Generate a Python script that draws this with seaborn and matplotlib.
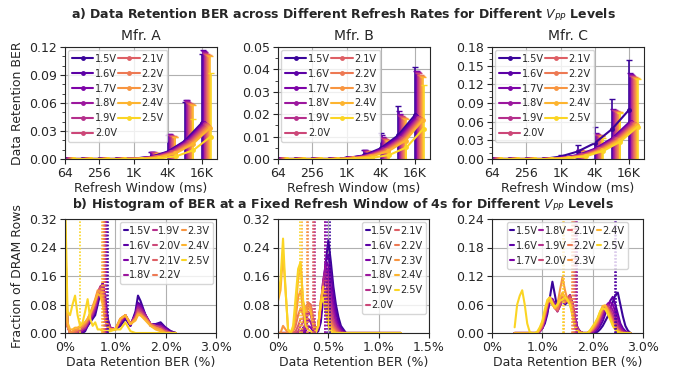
import numpy as np
import pandas as pd
import seaborn as sns
import matplotlib.pyplot as plt
from matplotlib.ticker import AutoMinorLocator, FuncFormatter, FormatStrFormatter

voltages = ['1.5V', '1.6V', '1.7V', '1.8V', '1.9V', '2.0V', '2.1V', '2.2V', '2.3V', '2.4V', '2.5V']
refresh_ms = [64, 128, 256, 512, 1024, 2048, 4096, 8192, 16384]
refresh_ticks = [64, 256, 1024, 4096, 16384]
refresh_labels = ['64', '256', '1K', '4K', '16K']

# top row: mean BER and spread per refresh window (rows = voltages)
mean_a = [
    [0, 0, 0, 0, .0005, .0022, .0080, .0195, .0390],
    [0, 0, 0, 0, .0005, .0021, .0078, .0192, .0385],
    [0, 0, 0, 0, .0005, .0021, .0077, .0190, .0382],
    [0, 0, 0, 0, .0004, .0020, .0075, .0187, .0378],
    [0, 0, 0, 0, .0004, .0020, .0073, .0183, .0372],
    [0, 0, 0, 0, .0004, .0019, .0071, .0179, .0366],
    [0, 0, 0, 0, .0004, .0018, .0069, .0175, .0360],
    [0, 0, 0, 0, .0004, .0017, .0066, .0170, .0352],
    [0, 0, 0, 0, .0003, .0016, .0063, .0165, .0343],
    [0, 0, 0, 0, .0003, .0015, .0059, .0158, .0330],
    [0, 0, 0, 0, .0001, .0006, .0030, .0095, .0240],
]
err_a = [
    [0, 0, 0, 0, .001, .005, .018, .0415, .074],
    [0, 0, 0, 0, .001, .005, .019, .0438, .0785],
    [0, 0, 0, 0, .001, .005, .019, .044, .0778],
    [0, 0, 0, 0, .001, .005, .0185, .0433, .0772],
    [0, 0, 0, 0, .001, .005, .0187, .0427, .0768],
    [0, 0, 0, 0, .001, .005, .018, .0421, .0754],
    [0, 0, 0, 0, .001, .005, .018, .0425, .076],
    [0, 0, 0, 0, .001, .0045, .0184, .042, .0758],
    [0, 0, 0, 0, .001, .0045, .0177, .0425, .0767],
    [0, 0, 0, 0, .001, .0045, .018, .0422, .077],
    [0, 0, 0, 0, .0005, .002, .009, .0335, .068],
]
mean_b = [
    [0, 0, 0, 0, .0004, .0016, .0048, .0105, .0197],
    [0, 0, 0, 0, .0004, .0015, .0046, .0100, .0190],
    [0, 0, 0, 0, .0004, .0015, .0045, .0098, .0188],
    [0, 0, 0, 0, .0003, .0014, .0043, .0095, .0185],
    [0, 0, 0, 0, .0003, .0014, .0042, .0093, .0183],
    [0, 0, 0, 0, .0003, .0013, .0041, .0091, .0181],
    [0, 0, 0, 0, .0003, .0013, .0040, .0089, .0179],
    [0, 0, 0, 0, .0003, .0012, .0038, .0087, .0177],
    [0, 0, 0, 0, .0003, .0012, .0037, .0085, .0176],
    [0, 0, 0, 0, .0002, .0011, .0035, .0082, .0174],
    [0, 0, 0, 0, .0001, .0005, .0018, .0052, .0136],
]
err_b = [
    [0, 0, 0, 0, .0006, .0025, .0068, .013, .0213],
    [0, 0, 0, 0, .0006, .0025, .006, .0115, .0205],
    [0, 0, 0, 0, .0006, .0024, .0052, .0103, .0205],
    [0, 0, 0, 0, .0005, .0023, .0051, .0100, .0203],
    [0, 0, 0, 0, .0005, .0023, .0050, .0099, .0202],
    [0, 0, 0, 0, .0005, .0022, .0049, .0099, .0202],
    [0, 0, 0, 0, .0005, .0022, .0048, .0098, .0198],
    [0, 0, 0, 0, .0005, .0021, .0047, .0098, .0196],
    [0, 0, 0, 0, .0005, .0021, .0046, .0097, .0194],
    [0, 0, 0, 0, .0004, .0020, .0045, .0096, .0193],
    [0, 0, 0, 0, .0002, .0010, .0030, .0075, .0195],
]
mean_c = [
    [0, 0, 0, 0, .0040, .0120, .0256, .0480, .0790],
    [0, 0, 0, 0, .0020, .0065, .0170, .0340, .0600],
    [0, 0, 0, 0, .0020, .0063, .0166, .0335, .0590],
    [0, 0, 0, 0, .0020, .0061, .0163, .0330, .0585],
    [0, 0, 0, 0, .0018, .0060, .0160, .0325, .0580],
    [0, 0, 0, 0, .0018, .0058, .0157, .0320, .0570],
    [0, 0, 0, 0, .0017, .0056, .0154, .0315, .0565],
    [0, 0, 0, 0, .0016, .0054, .0150, .0310, .0560],
    [0, 0, 0, 0, .0015, .0052, .0146, .0305, .0550],
    [0, 0, 0, 0, .0014, .0050, .0142, .0300, .0540],
    [0, 0, 0, 0, .0012, .0045, .0130, .0280, .0520],
]
err_c = [
    [0, 0, 0, 0, .002, .010, .026, .049, .080],
    [0, 0, 0, 0, .0015, .008, .024, .047, .078],
    [0, 0, 0, 0, .0015, .008, .024, .046, .077],
    [0, 0, 0, 0, .0015, .008, .0235, .046, .0765],
    [0, 0, 0, 0, .0015, .0078, .023, .0455, .076],
    [0, 0, 0, 0, .0015, .0077, .023, .0455, .076],
    [0, 0, 0, 0, .0015, .0076, .0228, .045, .0755],
    [0, 0, 0, 0, .0014, .0075, .0225, .045, .0755],
    [0, 0, 0, 0, .0014, .0074, .0223, .0455, .0755],
    [0, 0, 0, 0, .0013, .0073, .022, .0455, .0755],
    [0, 0, 0, 0, .0012, .007, .021, .046, .076],
]

# bottom row: fraction of rows per BER bin (%), 4s refresh window
ber_x_a = [0, .05, .1, .15, .2, .25, .3, .35, .4, .45, .5, .55, .6, .65, .7, .75, .8, .85, .9,
           1.0, 1.1, 1.2, 1.3, 1.4, 1.45, 1.5, 1.6, 1.7, 1.8, 1.9, 2.0, 2.1, 2.2]
frac_a = [
    [.29, .02, 0, 0, 0, 0, 0, 0, .005, .02, .03, .04, .05, .08, .11, .135, .10, .04, .015, .01, .02, .04, .02, .06, .105, .09, .05, .02, .025, .03, .015, .005, 0],
    [.18, .02, 0, 0, 0, 0, 0, .005, .01, .02, .035, .045, .06, .09, .12, .14, .09, .035, .015, .01, .025, .045, .02, .055, .085, .08, .05, .025, .025, .025, .015, .005, 0],
    [.15, .02, 0, 0, 0, 0, 0, .005, .01, .025, .035, .05, .065, .095, .125, .14, .085, .03, .015, .01, .03, .045, .025, .05, .08, .075, .05, .025, .02, .02, .01, 0, 0],
    [.14, .02, 0, 0, 0, 0, .005, .01, .015, .025, .04, .05, .07, .10, .13, .135, .08, .03, .015, .01, .03, .05, .025, .05, .075, .07, .05, .025, .02, .02, .01, 0, 0],
    [.13, .02, 0, 0, 0, 0, .005, .01, .015, .03, .04, .055, .075, .105, .13, .13, .07, .03, .015, .01, .035, .05, .025, .045, .07, .065, .045, .025, .02, .015, .005, 0, 0],
    [.13, .02, 0, 0, 0, .005, .01, .015, .02, .03, .045, .06, .08, .11, .13, .12, .065, .025, .01, .01, .035, .05, .025, .045, .065, .06, .045, .025, .02, .015, .005, 0, 0],
    [.14, .02, 0, 0, 0, .005, .01, .015, .02, .035, .05, .065, .085, .11, .125, .11, .055, .02, .01, .01, .04, .05, .025, .04, .06, .055, .04, .025, .015, .01, .005, 0, 0],
    [.18, .02, 0, 0, .005, .01, .015, .02, .025, .035, .05, .07, .09, .115, .12, .10, .05, .02, .01, .01, .04, .05, .025, .04, .055, .055, .04, .025, .015, .01, 0, 0, 0],
    [.25, .02, 0, .005, .01, .01, .015, .02, .03, .04, .055, .075, .095, .12, .115, .09, .04, .015, .01, .01, .04, .05, .025, .04, .055, .05, .04, .02, .015, .01, 0, 0, 0],
    [.31, .03, .01, .01, .015, .015, .02, .025, .03, .04, .055, .07, .09, .11, .105, .08, .035, .015, .01, .01, .04, .05, .025, .035, .05, .05, .035, .02, .01, .005, 0, 0, 0],
    [.40, .06, .05, .08, .105, .05, .02, .03, .06, .095, .04, .02, .03, .01, .01, .005, .005, .005, .005, .01, .01, .03, .005, 0, 0, 0, 0, 0, 0, 0, 0, 0, 0],
]
mean_line_a = [.85, .83, .82, .81, .80, .79, .78, .77, .76, .74, .30]

ber_x_b = [0, .025, .05, .075, .1, .125, .15, .175, .2, .225, .25, .275, .3, .325, .35, .375, .4, .425,
           .45, .475, .5, .525, .55, .575, .6, .625, .65, .675, .7, .8, 1.0, 1.22]
frac_b = [
    [0, 0, 0, 0, 0, 0, 0, 0, 0, 0, .015, 0, 0, 0, 0, 0, .005, .03, .10, .20, .26, .20, .13, .08, .045, .02, .01, 0, 0, 0, 0, 0],
    [0, 0, 0, 0, 0, 0, 0, 0, 0, 0, 0, 0, 0, 0, 0, 0, .01, .05, .12, .20, .22, .17, .11, .06, .03, .015, .005, 0, 0, 0, 0, 0],
    [0, 0, 0, 0, 0, 0, 0, 0, 0, 0, 0, .005, .02, .015, .005, 0, .01, .06, .14, .20, .19, .13, .08, .04, .02, .01, 0, 0, 0, 0, 0, 0],
    [0, 0, 0, 0, 0, 0, 0, 0, 0, 0, .005, .015, .04, .03, .01, 0, .015, .07, .15, .19, .16, .10, .06, .03, .015, .005, 0, 0, 0, 0, 0, 0],
    [0, 0, 0, 0, 0, 0, 0, 0, 0, .005, .01, .03, .06, .05, .02, .005, .02, .08, .15, .17, .13, .08, .04, .02, .01, 0, 0, 0, 0, 0, 0, 0],
    [0, 0, 0, 0, 0, 0, 0, 0, .005, .02, .03, .05, .08, .07, .03, .01, .02, .08, .14, .15, .10, .06, .03, .015, .005, 0, 0, 0, 0, 0, 0, 0],
    [0, 0, 0, 0, 0, 0, 0, .005, .02, .04, .04, .06, .085, .08, .04, .01, .02, .08, .13, .12, .08, .04, .02, .01, 0, 0, 0, 0, 0, 0, 0, 0],
    [0, 0, 0, 0, 0, 0, .005, .02, .05, .07, .05, .07, .085, .075, .04, .01, .02, .08, .13, .11, .06, .03, .015, .005, 0, 0, 0, 0, 0, 0, 0, 0],
    [0, 0, .02, .01, 0, 0, .01, .04, .10, .12, .06, .07, .08, .07, .03, .01, .02, .09, .13, .10, .05, .02, .01, 0, 0, 0, 0, 0, 0, 0, 0, 0],
    [.09, .12, .22, .12, .01, 0, .01, .06, .15, .19, .09, .06, .07, .06, .02, .005, .02, .09, .13, .09, .04, .015, .005, 0, 0, 0, 0, 0, 0, 0, 0, 0],
    [.10, .15, .265, .12, .01, 0, .02, .10, .18, .20, .08, .02, .01, .005, 0, 0, .02, .08, .10, .06, .02, .005, 0, 0, 0, 0, 0, 0, 0, 0, 0, 0],
]
mean_line_b = [.515, .49, .47, .465, .365, .355, .345, .30, .29, .24, .215]

ber_x_c = [.45, .5, .55, .6, .65, .7, .75, .8, .85, .9, .95, 1.0, 1.05, 1.1, 1.15, 1.2, 1.25, 1.3, 1.35, 1.4,
           1.45, 1.5, 1.55, 1.6, 1.65, 1.7, 1.75, 1.8, 1.85, 1.9, 1.95, 2.0, 2.05, 2.1, 2.15, 2.2, 2.25, 2.3,
           2.35, 2.4, 2.45, 2.5, 2.55, 2.6, 2.65, 2.7, 2.75]
frac_c = [
    [0, 0, 0, 0, 0, 0, 0, 0, 0, 0, .005, .01, .02, .04, .075, .108, .08, .05, .06, .07,
     .06, .065, .07, .05, .025, .01, .003, 0, 0, 0, 0, 0, 0, .003, .008, .015, .025, .035, .05, .065,
     .08, .085, .06, .035, .015, .005, 0],
    [0, 0, 0, 0, 0, 0, 0, 0, 0, 0, .005, .01, .025, .045, .065, .07, .06, .05, .06, .07,
     .065, .07, .075, .06, .03, .01, .003, 0, 0, 0, 0, 0, .003, .008, .015, .025, .04, .055, .068, .076,
     .06, .04, .02, .01, .004, 0, 0],
    [0, 0, 0, 0, 0, 0, 0, 0, 0, 0, .003, .01, .025, .05, .07, .072, .06, .048, .058, .068,
     .065, .072, .078, .06, .03, .01, .003, 0, 0, 0, 0, .002, .006, .012, .022, .035, .05, .062, .065, .06,
     .045, .03, .015, .006, .002, 0, 0],
    [0, 0, 0, 0, 0, 0, 0, 0, 0, 0, .003, .01, .03, .055, .073, .07, .057, .046, .057, .068,
     .063, .072, .08, .062, .03, .01, .003, 0, 0, 0, 0, .002, .006, .013, .025, .04, .055, .06, .058, .048,
     .033, .02, .01, .004, 0, 0, 0],
    [0, 0, 0, 0, 0, 0, 0, 0, 0, 0, .004, .012, .032, .058, .075, .068, .055, .045, .057, .07,
     .064, .073, .08, .06, .028, .008, .002, 0, 0, 0, .002, .005, .01, .018, .03, .045, .056, .058, .05, .038,
     .025, .014, .006, .002, 0, 0, 0],
    [0, 0, 0, 0, 0, 0, 0, 0, 0, 0, .005, .014, .035, .06, .075, .066, .053, .046, .06, .072,
     .064, .072, .078, .058, .025, .007, .002, 0, 0, 0, .002, .005, .012, .02, .033, .047, .056, .055, .045, .032,
     .02, .01, .004, 0, 0, 0, 0],
    [0, 0, 0, 0, 0, 0, 0, 0, 0, 0, .006, .016, .038, .062, .074, .064, .052, .048, .065, .075,
     .065, .07, .075, .055, .022, .006, .002, 0, 0, 0, .003, .007, .014, .023, .036, .05, .057, .053, .042, .028,
     .016, .008, .003, 0, 0, 0, 0],
    [0, 0, 0, 0, 0, 0, 0, 0, 0, 0, .007, .018, .04, .063, .072, .062, .052, .05, .07, .08,
     .066, .068, .072, .05, .02, .005, .001, 0, 0, 0, .003, .008, .015, .025, .038, .052, .057, .05, .038, .024,
     .013, .006, .002, 0, 0, 0, 0],
    [0, 0, 0, 0, 0, 0, 0, 0, 0, 0, .008, .02, .042, .065, .07, .06, .052, .06, .09, .117,
     .09, .07, .065, .045, .018, .004, .001, 0, 0, 0, .004, .01, .018, .028, .042, .055, .058, .048, .035, .02,
     .01, .004, 0, 0, 0, 0, 0],
    [0, 0, 0, 0, 0, 0, 0, 0, 0, 0, .01, .022, .045, .065, .068, .06, .052, .058, .075, .085,
     .075, .068, .06, .04, .015, .003, 0, 0, 0, 0, .005, .012, .02, .03, .045, .057, .058, .046, .032, .018,
     .008, .003, 0, 0, 0, 0, 0],
    [.012, .06, .078, .09, .06, .02, .002, 0, 0, .003, .012, .025, .05, .07, .075, .063, .055, .06, .068, .07,
     .075, .07, .06, .035, .012, .002, 0, 0, 0, 0, .006, .014, .022, .032, .046, .052, .05, .04, .028, .015,
     .007, .002, 0, 0, 0, 0, 0],
]
mean_line_c = [2.47, 2.44, 1.68, 1.67, 1.66, 1.64, 1.62, 1.60, 1.58, 1.43, 1.41]

sns.set_style('ticks')
colors = sns.color_palette('plasma', len(voltages))

fig, axes = plt.subplots(2, 3, figsize=(6.86, 3.70), dpi=100)
lefts = [65 / 686, 278 / 686, 492 / 686]
for j in range(3):
    axes[0, j].set_position([lefts[j], 1 - 159 / 370, 152 / 686, 112 / 370])
    axes[1, j].set_position([lefts[j], 1 - 333 / 370, 151 / 686, 114 / 370])


def draw_ber(ax, mean, err, title, ymax, ystep, nminor):
    for i, v in enumerate(voltages):
        x = [w * 2 ** (0.05 * i) for w in refresh_ms]
        ax.errorbar(x, mean[i], yerr=err[i], fmt='none', ecolor=colors[i],
                    elinewidth=1.2, capsize=2, capthick=1)
    for i, v in enumerate(voltages):
        x = [w * 2 ** (0.05 * i) for w in refresh_ms]
        sns.lineplot(x=x, y=mean[i], color=colors[i], marker='o', markersize=3.5,
                     markeredgewidth=0, lw=1.5, label=v, ax=ax)
    ax.set_xscale('log', base=2)
    ax.set_xlim(64, 30000)
    ax.set_xticks(refresh_ticks)
    ax.set_xticklabels(refresh_labels)
    ax.minorticks_off()
    ax.set_ylim(0, ymax)
    ax.set_yticks(np.arange(0, ymax + 1e-9, ystep))
    ax.yaxis.set_major_formatter(FormatStrFormatter('%.2f'))
    ax.yaxis.set_minor_locator(AutoMinorLocator(nminor))
    ax.set_title(title, fontsize=10, pad=5)
    ax.set_xlabel('Refresh Window (ms)', fontsize=9, labelpad=2)
    ax.set_ylabel('')
    ax.grid(True, color='#b0b0b0', lw=0.8)
    ax.set_axisbelow(True)
    ax.tick_params(labelsize=9, pad=2)
    ax.legend(ncol=2, loc='upper left', fontsize=7, handlelength=2.2, handletextpad=0.2,
              columnspacing=0.1, borderaxespad=0.3, borderpad=0.4, labelspacing=0.5)


def pct(v, pos):
    return '0%' if abs(v) < 1e-9 else f'{v:.1f}%'


def draw_hist(ax, xs, frac, means, xmax, xstep, ymax, ystep, ncol, loc):
    for i, v in enumerate(voltages):
        sns.lineplot(x=xs, y=frac[i], color=colors[i], lw=1.5, label=v, ax=ax)
    for i in range(len(voltages)):
        ax.axvline(means[i], color=colors[i], ls=(0, (1, 1)), lw=1.2)
    ax.set_xlim(0, xmax)
    ax.set_xticks(np.arange(0, xmax + 1e-9, xstep))
    ax.xaxis.set_major_formatter(FuncFormatter(pct))
    ax.set_ylim(0, ymax)
    ax.set_yticks(np.arange(0, ymax + 1e-9, ystep))
    ax.yaxis.set_major_formatter(FormatStrFormatter('%.2f'))
    ax.set_xlabel('Data Retention BER (%)', fontsize=9, labelpad=2)
    ax.set_ylabel('')
    ax.grid(True, color='#b0b0b0', lw=0.8)
    ax.set_axisbelow(True)
    ax.tick_params(labelsize=9, pad=2)
    ax.legend(ncol=ncol, loc=loc, fontsize=7, handlelength=0.4, handletextpad=0.15,
              columnspacing=0.15, borderaxespad=0.3, borderpad=0.4, labelspacing=0.5)


draw_ber(axes[0, 0], mean_a, err_a, 'Mfr. A', 0.12, 0.03, 3)
draw_ber(axes[0, 1], mean_b, err_b, 'Mfr. B', 0.05, 0.01, 2)
draw_ber(axes[0, 2], mean_c, err_c, 'Mfr. C', 0.18, 0.03, 3)
axes[0, 0].set_ylabel('Data Retention BER', fontsize=9)

draw_hist(axes[1, 0], ber_x_a, frac_a, mean_line_a, 3.0, 1.0, 0.32, 0.08, 3, 'upper right')
draw_hist(axes[1, 1], ber_x_b, frac_b, mean_line_b, 1.5, 0.5, 0.32, 0.08, 2, 'upper right')
draw_hist(axes[1, 2], ber_x_c, frac_c, mean_line_c, 3.0, 1.0, 0.24, 0.06, 4, 'upper center')
axes[1, 0].set_ylabel('Fraction of DRAM Rows', fontsize=9)

fig.text(0.5, 0.948, r'a) Data Retention BER across Different Refresh Rates for Different $V_{PP}$ Levels',
         ha='center', va='baseline', fontsize=9, fontweight='bold')
fig.text(0.5, 0.437, r'b) Histogram of BER at a Fixed Refresh Window of 4s for Different $V_{PP}$ Levels',
         ha='center', va='baseline', fontsize=9, fontweight='bold')

fig.savefig('out.png', dpi=100)
